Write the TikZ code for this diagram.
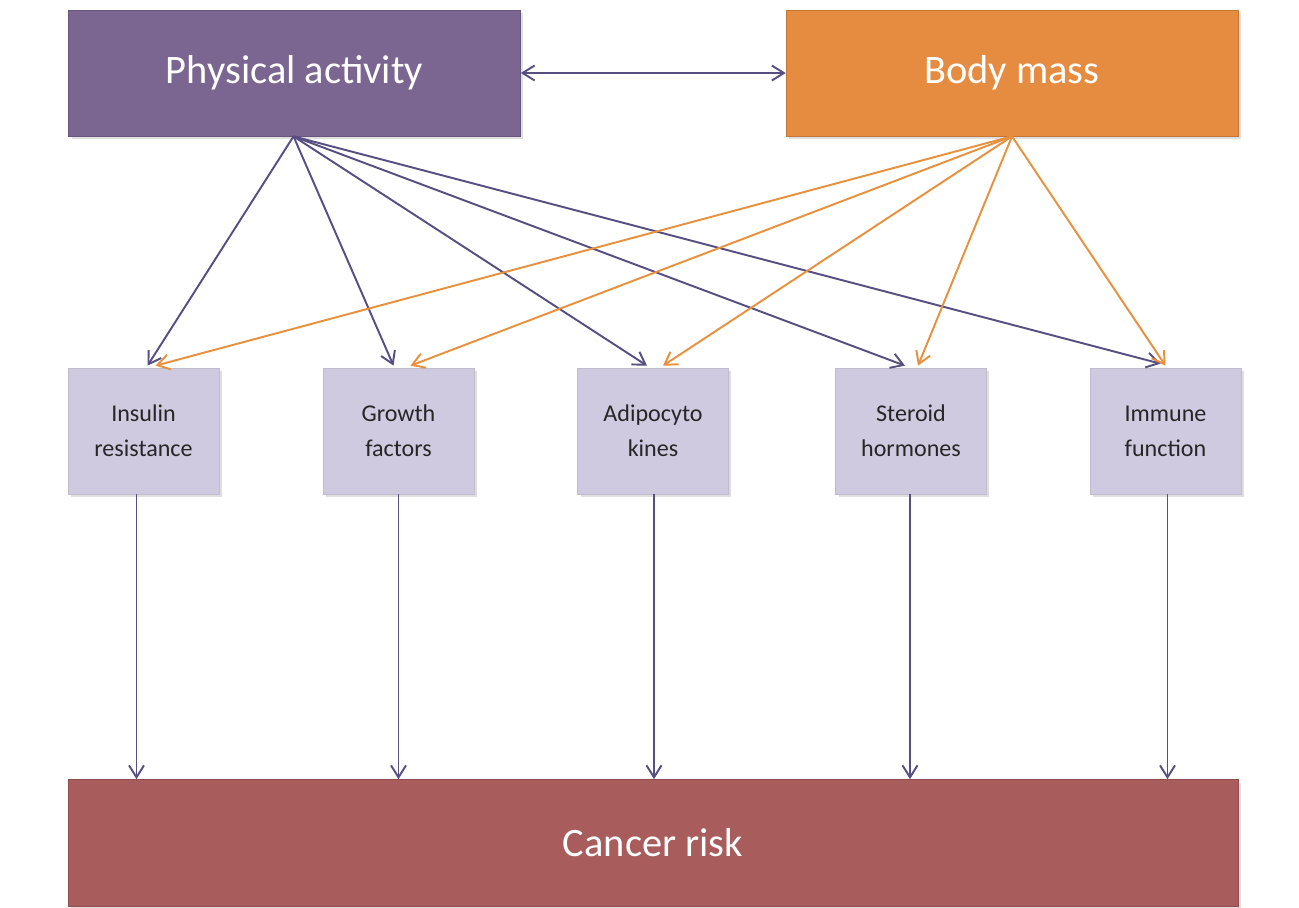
\documentclass[tikz,border=0pt]{standalone}
\usepackage{fontspec}
\setmainfont{Carlito}
\usetikzlibrary{positioning,arrows.meta,calc,shadows}
\definecolor{npurple}{HTML}{7A6690}
\definecolor{norange}{HTML}{E68C40}
\definecolor{nlav}{HTML}{D0CAE0}
\definecolor{nred}{HTML}{A85C5C}
\definecolor{nline}{HTML}{574E82}
\definecolor{noline}{HTML}{E8903C}
\begin{document}
\begin{tikzpicture}[x=0.02cm,y=-0.02cm,
  topbox/.style={rectangle,draw=#1!85!black,line width=0.4pt,fill=#1,text=white,
    minimum width=9.04cm,minimum height=2.52cm,inner sep=0pt,
    font=\fontsize{23}{27}\selectfont,
    drop shadow={opacity=0.25,shadow xshift=0.6mm,shadow yshift=-0.6mm}},
  midbox/.style={rectangle,draw=nlav!80!gray,line width=0.4pt,fill=nlav,text=black!85,
    minimum width=3.02cm,minimum height=2.52cm,inner sep=0pt,align=center,
    font=\fontsize{13.7}{19.8}\selectfont,
    drop shadow={opacity=0.25,shadow xshift=0.6mm,shadow yshift=-0.6mm}},
  parr/.style={-{Straight Barb[length=2.4mm,width=3mm]},nline,line width=1.1pt},
  oarr/.style={-{Straight Barb[length=2.4mm,width=3mm]},noline,line width=1.1pt}]
 \useasboundingbox (0,0) rectangle (1299,907);
 \node[topbox=npurple] (pa) at (294.5,73) {Physical activity};
 \node[topbox=norange] (bm) at (1012,73) {Body mass};
 \node[midbox] (ir) at (143.5,431) {Insulin\\resistance};
 \node[midbox] (gf) at (398.5,431) {Growth\\factors};
 \node[midbox] (ak) at (653,431) {Adipocyto\\kines};
 \node[midbox] (sh) at (911,431) {Steroid\\hormones};
 \node[midbox] (if) at (1165.5,431) {Immune\\function};
 \node[topbox=nred,minimum width=23.4cm,minimum height=2.54cm] (cr) at (653,843) {Cancer risk};
 % top link
 \draw[{Straight Barb[length=2.4mm,width=3mm]}-{Straight Barb[length=2.4mm,width=3mm]},nline,line width=1.1pt] (pa.east) -- (bm.west);
 % physical activity
 \draw[parr] ($(pa.south)+(-1,0)$) -- ($(ir.north)+(4,-2)$);
 \draw[parr] ($(pa.south)+(-1,0)$) -- ($(gf.north)+(-5,-2)$);
 \draw[parr] ($(pa.south)+(-1,0)$) -- ($(ak.north)+(-6,-2)$);
 \draw[parr] ($(pa.south)+(-1,0)$) -- ($(sh.north)+(-6,-2)$);
 \draw[parr] ($(pa.south)+(-1,0)$) -- ($(if.north)+(-5,-4)$);
 % body mass
 \draw[oarr] (bm.south) -- ($(ir.north)+(12,-2)$);
 \draw[oarr] (bm.south) -- ($(gf.north)+(12,-2)$);
 \draw[oarr] (bm.south) -- ($(ak.north)+(10,-2)$);
 \draw[oarr] (bm.south) -- ($(sh.north)+(7,-2)$);
 \draw[oarr] (bm.south) -- ($(if.north)+(0,-2)$);
 % to cancer risk
 \foreach \n/\dx in {ir/-7,gf/0,ak/1,sh/-1,if/2}{
   \coordinate (\n-out) at ($(\n.south)+(\dx,0)$);
   \draw[parr] (\n-out) -- (\n-out |- cr.north);
 }
\end{tikzpicture}
\end{document}
